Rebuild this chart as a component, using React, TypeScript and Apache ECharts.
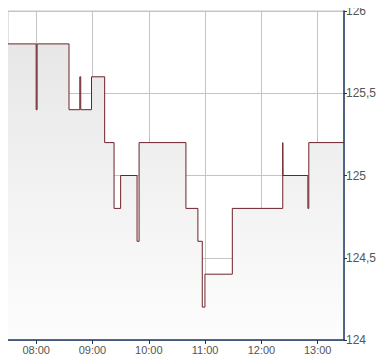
import React, { useEffect, useRef } from "react";
import * as echarts from "echarts";

// Trade times (HH:MM:SS) and prices; each price holds until the next time (step line)
const times: string[] = [
  "07:30:00", "08:00:00", "08:01:00", "08:35:00", "08:46:30", "08:47:30",
  "08:59:00", "09:13:00", "09:23:00", "09:30:00", "09:47:30", "09:49:40",
  "10:39:35", "10:52:20", "10:57:00", "10:59:50", "11:29:00", "12:22:45",
  "12:23:00", "12:49:30", "12:50:30", "13:28:00",
];
const prices: number[] = [
  125.8, 125.4, 125.8, 125.4, 125.6, 125.4,
  125.6, 125.2, 124.8, 125.0, 124.6, 125.2,
  124.8, 124.6, 124.2, 124.4, 124.8, 125.2,
  125.0, 124.8, 125.2, 125.2,
];
const hourTicks: string[] = ["08:00", "09:00", "10:00", "11:00", "12:00", "13:00"];
const xStart = "07:30";
const xEnd = "13:28";
const yMin = 124;
const yMax = 126;
const yStep = 0.5;

const toMin = (s: string): number => {
  const p = s.split(":").map(Number);
  return p[0] * 60 + p[1] + (p[2] || 0) / 60;
};
const fmtTime = (m: number): string => {
  const h = Math.floor(m / 60);
  const mm = Math.round(m - h * 60);
  return String(h).padStart(2, "0") + ":" + String(mm).padStart(2, "0");
};

export default function App() {
  const ref = useRef<HTMLDivElement>(null);
  useEffect(() => {
    if (!ref.current) return;
    const chart = echarts.init(ref.current, null, { renderer: "svg" });
    const navy = "#1d3765";
    const grey = "#c4c4c4";
    const tickVals = hourTicks.map(toMin);
    const labelStyle = {
      color: "#555555",
      fontFamily: "Liberation Sans, Arial, sans-serif",
    };
    chart.setOption({
      animation: false,
      grid: {
        left: 8,
        right: 46,
        top: 11,
        bottom: 24,
        show: true,
        borderColor: grey,
        borderWidth: 1,
        backgroundColor: "transparent",
        outerBoundsMode: "none",
      },
      xAxis: [
        {
          type: "value",
          position: "bottom",
          min: toMin(xStart),
          max: toMin(xEnd),
          axisLine: { show: false },
          axisTick: {
            show: true,
            inside: false,
            length: 4,
            lineStyle: { color: navy },
            customValues: tickVals,
          },
          axisLabel: {
            ...labelStyle,
            customValues: tickVals,
            formatter: (v: number) => fmtTime(v),
            fontSize: 11,
            margin: 4,
          },
          splitLine: { show: true, lineStyle: { color: grey, width: 1 } },
        },
        {
          type: "value",
          position: "bottom",
          z: 10,
          min: toMin(xStart),
          max: toMin(xEnd),
          axisLine: { show: true, lineStyle: { color: navy, width: 1.5 } },
          axisTick: { show: false },
          axisLabel: { show: false },
          splitLine: { show: false },
        },
      ],
      yAxis: [
        {
          type: "value",
          position: "right",
          min: yMin,
          max: yMax,
          interval: yStep,
          axisLine: { show: false },
          axisTick: { show: true, inside: false, length: 3, lineStyle: { color: navy } },
          axisLabel: {
            ...labelStyle,
            formatter: (v: number) => String(v).replace(".", ","),
            fontSize: 12,
            margin: 2,
          },
          splitLine: { show: true, lineStyle: { color: grey, width: 1 } },
        },
        {
          type: "value",
          position: "right",
          z: 10,
          min: yMin,
          max: yMax,
          interval: yStep,
          axisLine: { show: true, lineStyle: { color: navy, width: 1.5 } },
          axisTick: { show: false },
          axisLabel: { show: false },
          splitLine: { show: false },
        },
      ],
      series: [
        {
          type: "line",
          step: "end",
          symbol: "none",
          xAxisIndex: 0,
          yAxisIndex: 0,
          data: times.map((t, i) => [toMin(t), prices[i]]),
          lineStyle: { color: "#6b2228", width: 1 },
          areaStyle: {
            origin: "start",
            opacity: 1,
            color: new echarts.graphic.LinearGradient(0, 0, 0, 1, [
              { offset: 0, color: "#e7e7e7" },
              { offset: 1, color: "#fdfdfd" },
            ]),
          },
        },
      ],
    });
    return () => chart.dispose();
  }, []);
  return <div ref={ref} style={{ width: 390, height: 364, margin: -8 }} />;
}
